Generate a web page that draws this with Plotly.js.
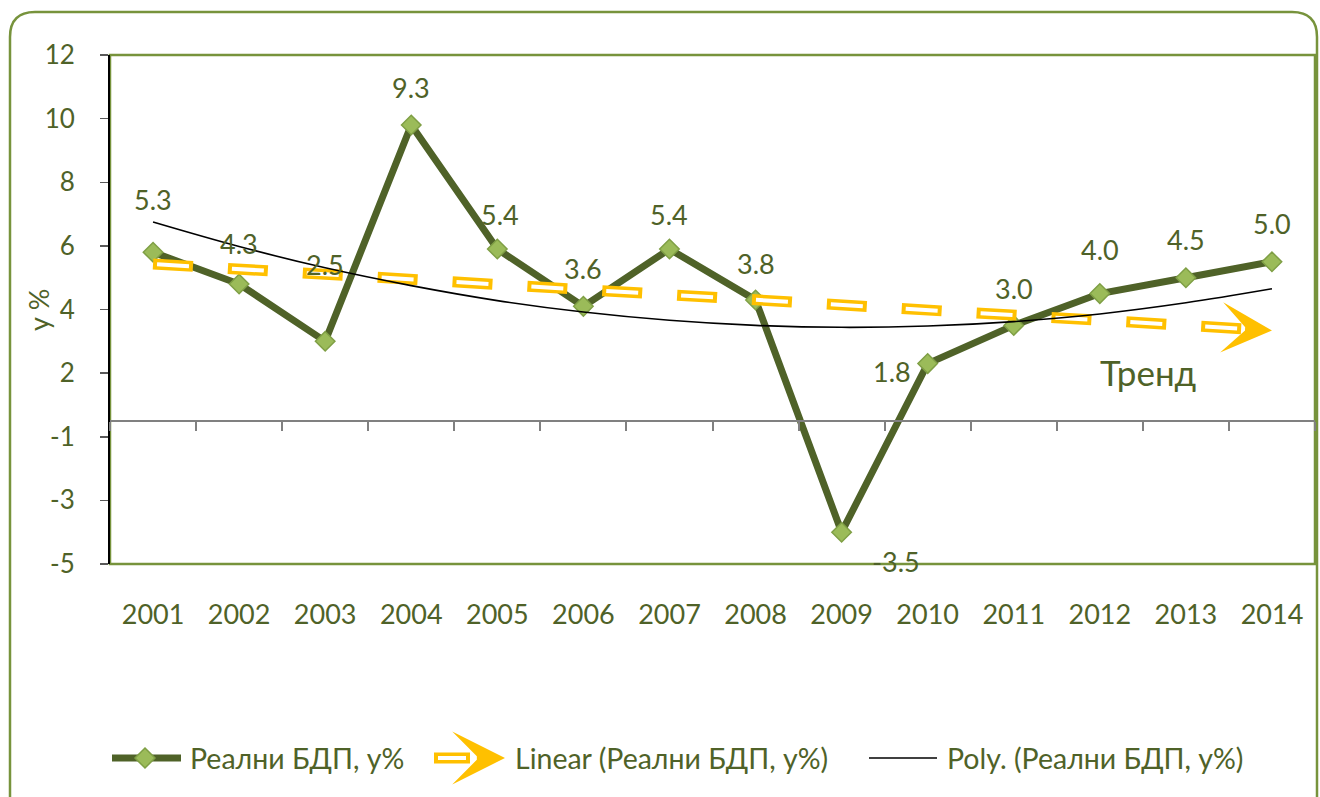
<!DOCTYPE html>
<html>
<head>
<meta charset="utf-8">
<script src="https://cdn.plot.ly/plotly-3.0.1.min.js"></script>
<style>
  html, body { margin: 0; padding: 0; background: #ffffff; }
  #chart { width: 1320px; height: 797px; }
</style>
</head>
<body>
<div id="chart"></div>
<script>
// ---------- data ----------
const years = ['2001','2002','2003','2004','2005','2006','2007','2008','2009','2010','2011','2012','2013','2014'];
const gdpGrowth = [5.3, 4.3, 2.5, 9.3, 5.4, 3.6, 5.4, 3.8, -3.5, 1.8, 3.0, 4.0, 4.5, 5.0];
const linearYears = ['2001', '2014'];
const linearTrend = [4.93, 2.84];
const polyTrend = [6.25, 5.48, 4.81, 4.25, 3.78, 3.42, 3.16, 3.00, 2.94, 2.98, 3.12, 3.36, 3.71, 4.15];
const yTickVals = [11.5, 9.5, 7.5, 5.5, 3.5, 1.5, -0.5, -2.5, -4.5];
const yTickText = ['12', '10', '8', '6', '4', '2', '-1', '-3', '-5'];
const seriesNames = ['Реални БДП, у%', 'Linear (Реални БДП, у%)', 'Poly. (Реални БДП, у%)'];
const yTitle = 'у %';
const trendLabel = 'Тренд';

// ---------- style / layout helpers ----------
const W = 1320, H = 797;
const PL = 110, PR = 1315, PT = 55, PB = 564;
const yRange = [-4.5, 11.5];
const FONT = 'Lato, "Noto Sans", "DejaVu Sans", sans-serif';
const TXT = '#4F6228';
const OLIVE = '#4F6228';
const BORDER = '#77933C';
const ORANGE = '#FFC000';
function px(x) { return (x - PL) / (PR - PL); }
function py(y) { return (PB - y) / (PB - PT); }

// per-point label offsets [dx, dy] in px
const labelShift = [[0,53],[0,41],[0,77],[0,37],[3,35],[0,38],[0,35],[0,36],[54,-29],[-36,-8],[0,37],[0,44],[0,38],[0,38]];

const traces = [
  {
    x: years, y: gdpGrowth, type: 'scatter', mode: 'lines+markers',
    name: seriesNames[0], showlegend: false,
    line: { color: OLIVE, width: 7 },
    marker: { symbol: 'diamond', size: 15, color: '#9BBB59', line: { color: '#7F9F45', width: 1.5 } },
    hoverinfo: 'x+y'
  },
  {
    x: linearYears, y: linearTrend, type: 'scatter', mode: 'lines',
    name: seriesNames[1], showlegend: false,
    line: { color: ORANGE, width: 11, dash: '40px,35px' }, hoverinfo: 'skip'
  },
  {
    x: linearYears, y: linearTrend, type: 'scatter', mode: 'lines',
    showlegend: false,
    line: { color: '#ffffff', width: 4, dash: '0px,4px,32px,39px' }, hoverinfo: 'skip'
  },
  {
    x: years, y: polyTrend, type: 'scatter', mode: 'lines', xaxis: 'x2',
    name: seriesNames[2], showlegend: false,
    line: { color: '#000000', width: 1.6, shape: 'spline' }, hoverinfo: 'skip'
  }
];

const annotations = gdpGrowth.map((v, i) => ({
  x: i, y: v, xref: 'x', yref: 'y',
  text: v.toFixed(1), showarrow: false,
  xanchor: 'center', yanchor: 'middle',
  xshift: labelShift[i][0], yshift: labelShift[i][1],
  font: { family: FONT, size: 27, color: TXT }
}));

// trend arrowhead (tip at last trend point)
annotations.push({
  x: years.indexOf(linearYears[1]), y: linearTrend[1], xref: 'x', yref: 'y',
  text: '', showarrow: true, arrowhead: 3, arrowcolor: ORANGE,
  arrowwidth: 4, arrowsize: 2.1, ax: -28, ay: -1.7, standoff: 0
});
// "Тренд" text
annotations.push({
  x: px(1148), y: py(372), xref: 'paper', yref: 'paper',
  xanchor: 'center', yanchor: 'middle',
  text: trendLabel, showarrow: false,
  font: { family: FONT, size: 35, color: TXT }
});
// y axis title
annotations.push({
  x: px(38), y: py(310), xref: 'paper', yref: 'paper',
  xanchor: 'center', yanchor: 'middle', textangle: -90,
  text: yTitle, showarrow: false,
  font: { family: FONT, size: 27, color: TXT }
});

// ---------- manual legend ----------
const LY = 758;
const legendTextX = [188, 513, 945];
legendTextX.forEach((lx, i) => {
  annotations.push({
    x: px(lx), y: py(LY), xref: 'paper', yref: 'paper',
    xanchor: 'left', yanchor: 'middle', text: seriesNames[i], showarrow: false,
    font: { family: FONT, size: 28.5, color: TXT }
  });
});
annotations.push({
  x: px(505), y: py(LY), xref: 'paper', yref: 'paper',
  text: '', showarrow: true, arrowhead: 3, arrowcolor: ORANGE,
  arrowwidth: 4, arrowsize: 2.2, ax: -28, ay: 0, standoff: 0
});

const shapes = [
  // outer rounded chart frame
  {
    type: 'path', xref: 'paper', yref: 'paper', layer: 'below',
    path: `M${px(10)},${py(805)} L${px(10)},${py(37)} Q${px(10)},${py(12)} ${px(35)},${py(12)} ` +
          `L${px(1292)},${py(12)} Q${px(1317)},${py(12)} ${px(1317)},${py(37)} L${px(1317)},${py(805)}`,
    line: { color: BORDER, width: 2.5 }
  },
  // plot area border
  { type: 'rect', xref: 'paper', yref: 'paper', x0: 0, x1: 1, y0: 0, y1: 1, layer: 'below',
    line: { color: BORDER, width: 2.5 } },
  // legend item 1
  { type: 'line', xref: 'paper', yref: 'paper', x0: px(112), x1: px(181), y0: py(LY), y1: py(LY),
    line: { color: OLIVE, width: 7 } },
  { type: 'path', xref: 'paper', yref: 'paper',
    path: `M${px(145)},${py(LY-10)} L${px(155)},${py(LY)} L${px(145)},${py(LY+10)} L${px(135)},${py(LY)} Z`,
    fillcolor: '#9BBB59', line: { color: '#7F9F45', width: 1.5 } },
  // legend item 2 (double dash)
  { type: 'line', xref: 'paper', yref: 'paper', x0: px(434), x1: px(470), y0: py(LY), y1: py(LY),
    line: { color: ORANGE, width: 11 } },
  { type: 'line', xref: 'paper', yref: 'paper', x0: px(438), x1: px(466), y0: py(LY), y1: py(LY),
    line: { color: '#ffffff', width: 4 } },
  // legend item 3
  { type: 'line', xref: 'paper', yref: 'paper', x0: px(869), x1: px(937), y0: py(LY), y1: py(LY),
    line: { color: '#000000', width: 1.6 } }
];

const layout = {
  width: W, height: H,
  margin: { l: PL, r: W - PR, t: PT, b: H - PB, pad: 0 },
  paper_bgcolor: '#ffffff', plot_bgcolor: '#ffffff',
  font: { family: FONT, size: 26, color: TXT },
  showlegend: false,
  xaxis: {
    type: 'category', categoryorder: 'array', categoryarray: years,
    range: [-0.5, years.length - 0.5],
    showline: false, showgrid: false, zeroline: false, ticks: '',
    ticklabelstandoff: 32,
    tickfont: { family: FONT, size: 27, color: TXT }
  },
  xaxis2: {
    type: 'category', categoryorder: 'array', categoryarray: years,
    range: [-0.5, years.length - 0.5],
    overlaying: 'x', anchor: 'free', side: 'bottom',
    position: (0 - yRange[0]) / (yRange[1] - yRange[0]),
    showline: true, linecolor: '#808080', linewidth: 2,
    ticks: 'outside', tickson: 'boundaries', ticklen: 9, tickwidth: 2, tickcolor: '#808080',
    showticklabels: false, showgrid: false, zeroline: false
  },
  yaxis: {
    range: yRange, tickmode: 'array', tickvals: yTickVals, ticktext: yTickText,
    showline: true, linecolor: '#000000', linewidth: 2,
    ticks: 'outside', ticklen: 8, tickwidth: 1.5, tickcolor: '#595959',
    ticklabelstandoff: 20,
    showgrid: false, zeroline: false,
    tickfont: { family: FONT, size: 26, color: TXT },
    title: { text: '' }
  },
  annotations: annotations,
  shapes: shapes
};

Plotly.newPlot('chart', traces, layout, { displayModeBar: false, staticPlot: true });
</script>
</body>
</html>
